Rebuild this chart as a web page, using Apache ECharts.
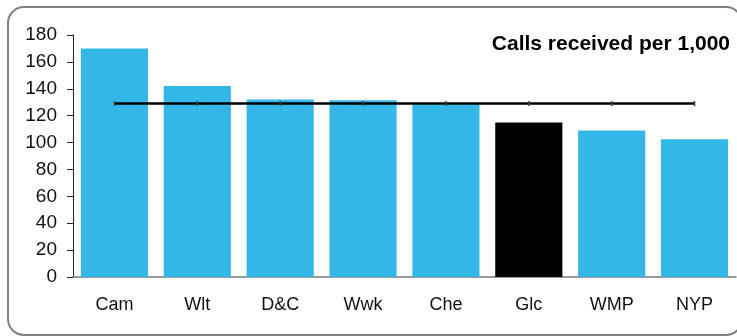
<!DOCTYPE html>
<html><head><meta charset="utf-8">
<script src="https://cdn.jsdelivr.net/npm/echarts@6/dist/echarts.min.js"></script>
<style>html,body{margin:0;padding:0;background:#fff}#c{width:737px;height:336px}</style>
</head><body><div id="c"></div>
<script>
const categories = ['Cam','Wlt','D&C','Wwk','Che','Glc','WMP','NYP'];
const callsPer1000 = [170, 142, 132, 131.5, 128.5, 115, 109, 102.5];
const averageLine = [129, 129, 129, 129, 129, 129, 129, 129];
const highlight = 'Glc';
const yTicks = {min: 0, max: 180, interval: 20};

const chart = echarts.init(document.getElementById('c'), null, {renderer: 'canvas'});
chart.setOption({
  animation: false,
  backgroundColor: '#fff',
  title: {
    text: 'Calls received per 1,000',
    right: 2, top: 29,
    textStyle: {fontFamily: 'Liberation Sans, Arial', fontSize: 21, fontWeight: 'bold', color: '#000'}
  },
  graphic: [{
    type: 'rect', z: -1, silent: true,
    shape: {x: 8, y: 7, width: 734, height: 328, r: 16},
    style: {fill: 'none', stroke: '#808080', lineWidth: 2}
  }],
  grid: {left: 73, right: 1, top: 35, bottom: 59, containLabel: false},
  xAxis: {
    type: 'category', data: categories,
    axisLine: {lineStyle: {color: '#7a7a7a', width: 1.5}},
    axisTick: {show: false},
    axisLabel: {fontFamily: 'Liberation Sans, Arial', fontSize: 18, color: '#111', margin: 19}
  },
  yAxis: {
    type: 'value', min: yTicks.min, max: yTicks.max, interval: yTicks.interval,
    splitLine: {show: false},
    axisLine: {show: true, lineStyle: {color: '#222', width: 1}},
    axisTick: {show: true, length: 6, lineStyle: {color: '#222'}},
    axisLabel: {fontFamily: 'Liberation Sans, Arial', fontSize: 19, color: '#111', margin: 16}
  },
  series: [{
    type: 'bar',
    data: callsPer1000.map((v, i) => ({value: v, itemStyle: {color: categories[i] === highlight ? '#000' : '#33b7e7'}})),
    barCategoryGap: '19%'
  }, {
    type: 'line', data: averageLine, z: 5,
    symbol: 'rect', symbolSize: [1.5, 5], showSymbol: true,
    itemStyle: {color: '#444'},
    lineStyle: {color: '#000', width: 2.5}
  }]
});
</script></body></html>
